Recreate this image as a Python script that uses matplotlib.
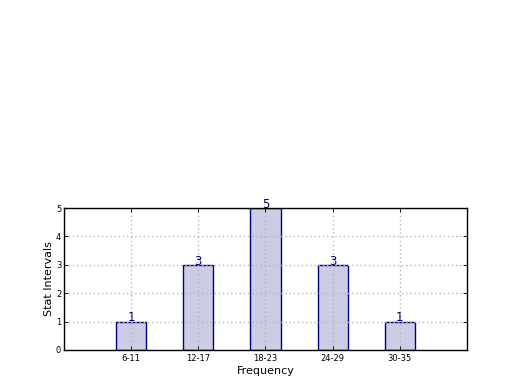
import matplotlib
matplotlib.use("Agg")
import matplotlib.pyplot as plt

categories = ["6-11", "12-17", "18-23", "24-29", "30-35"]
values = [1, 3, 5, 3, 1]
positions = [1, 2, 3, 4, 5]

fig = plt.figure(figsize=(5.2, 3.9), dpi=100)
ax = fig.add_axes([0.123, 0.1026, 0.775, 0.364])
bars = ax.bar(positions, values, width=0.45, align="center",
              facecolor=(0, 0, 0.5, 0.2), edgecolor="navy", linewidth=1.0, zorder=1)
for p, v in zip(positions, values):
    ax.annotate(str(v), (p, v), xytext=(0, -2), textcoords="offset points",
                ha="center", va="bottom", color="navy", fontsize=8.5, zorder=4)
ax.set_xlim(0, 6)
ax.set_ylim(0, 5)
ax.set_xticks(positions)
ax.set_xticklabels(categories, fontsize=6)
ax.set_yticks([0, 1, 2, 3, 4, 5])
ax.tick_params(axis="y", labelsize=6, pad=2)
ax.tick_params(axis="x", pad=3)
ax.tick_params(direction="in", top=True, right=True, length=3, width=0.6)
ax.grid(True, linestyle=(0, (1, 2)), color="#b5b5b5", linewidth=1.0, zorder=2)
ax.set_axisbelow(False)
ax.set_xlabel("Frequency", fontsize=8, labelpad=2)
ax.set_ylabel("Stat Intervals", fontsize=8, labelpad=1)
for s in ax.spines.values():
    s.set_linewidth(1.0)
    s.set_zorder(5)
fig.savefig("out.png", dpi=100)
